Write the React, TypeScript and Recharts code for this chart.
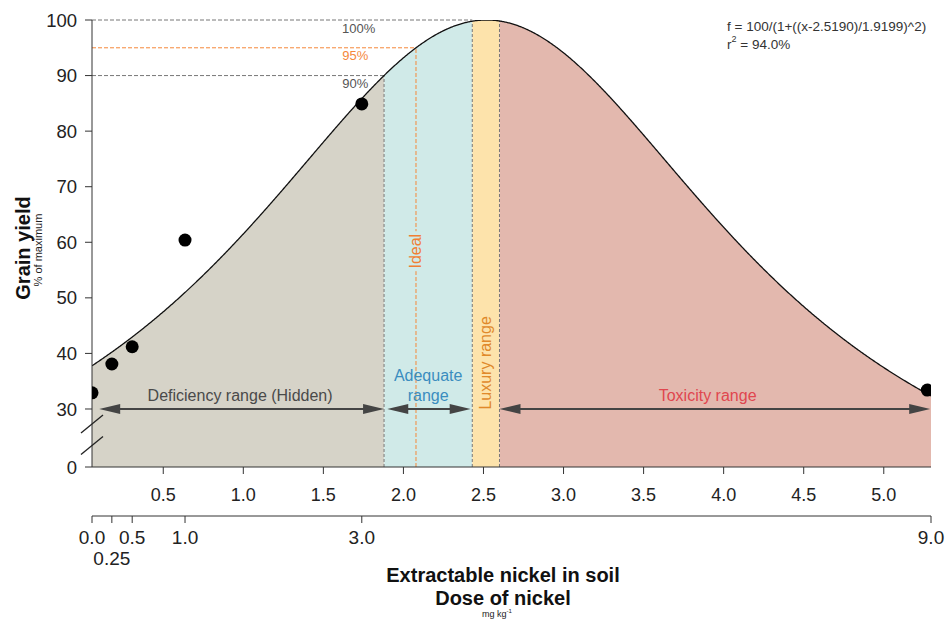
import React from 'react';
import {
  ComposedChart,
  Area,
  Line,
  Scatter,
  XAxis,
  YAxis,
  ReferenceLine,
  ReferenceDot,
} from 'recharts';

const FONT = '"Liberation Sans", Arial, Helvetica, sans-serif';
const W = 946;
const H = 619;

// Axis ids: extractable nickel sits directly under the plot, the dose scale below it
const SOIL = 'soil';
const TREAT = 'treatment';

// Fitted response curve: f = 100/(1+((x-b)/c)^2)
const FIT_B = 2.519;
const FIT_C = 1.9199;
const FIT_R2 = 94.0;
const fit = (x: number) => 100 / (1 + Math.pow((x - FIT_B) / FIT_C, 2));
const xAtPercent = (p: number) => FIT_B - FIT_C * Math.sqrt(100 / p - 1);

// Extractable nickel axis (mg/kg)
const X_MIN = 0.055;
const X_MAX = 5.295;
const extractableTicks = [0.5, 1.0, 1.5, 2.0, 2.5, 3.0, 3.5, 4.0, 4.5, 5.0];

// Yield axis, broken between 0 and 30
const Y_FLOOR = 19.56;
const yieldTicks = [Y_FLOOR, 30, 40, 50, 60, 70, 80, 90, 100];

// Nickel doses and where each one falls on the extractable-nickel scale
const doseLabels = ['0.0', '0.25', '0.5', '1.0', '3.0', '9.0'];
const doseExtractable = [X_MIN, 0.179, 0.306, 0.636, 1.74, X_MAX];

// Observed grain yield (% of maximum) for each dose
const observedExtractable = [0.055, 0.179, 0.306, 0.636, 1.74, 5.272];
const observedYield = [32.9, 38.1, 41.2, 60.4, 84.9, 33.4];

// Sufficiency thresholds
const ADEQUATE_FROM = xAtPercent(90);
const IDEAL = xAtPercent(95);
const LUXURY_FROM = 2.43;
const TOXIC_FROM = 2.6;

const rangeKeys = ['deficiency', 'adequate', 'luxury', 'toxicity'];
const rangeStarts = [X_MIN, ADEQUATE_FROM, LUXURY_FROM, TOXIC_FROM];
const rangeEnds = [ADEQUATE_FROM, LUXURY_FROM, TOXIC_FROM, X_MAX];

const rangeFill: Record<string, string> = {
  deficiency: '#d6d3c8',
  adequate: '#d0eae8',
  luxury: '#fde3ab',
  toxicity: '#e3b8ae',
};

// Sample the fitted curve across the axis, including every range limit
const sampleXs: number[] = (() => {
  const xs: number[] = [];
  const step = 0.005;
  for (let i = 0; X_MIN + i * step < X_MAX; i++) xs.push(X_MIN + i * step);
  xs.push(X_MAX, ...rangeStarts.slice(1));
  return Array.from(new Set(xs.map((v) => +v.toFixed(6)))).sort((a, b) => a - b);
})();

const curveData = sampleXs.map((x) => {
  const row: Record<string, number | null> = { x, fit: fit(x) };
  rangeKeys.forEach((k, i) => {
    row[k] = x >= rangeStarts[i] - 1e-9 && x <= rangeEnds[i] + 1e-9 ? fit(x) : null;
  });
  return row;
});

const observations = observedExtractable.map((x, i) => ({ x, y: observedYield[i] }));

const ARROW = '#444';

const DoubleArrow = (p: any) => {
  const { x1, y1, x2 } = p;
  const L = 21;
  const Hh = 5;
  return (
    <g>
      <line x1={x1 + L - 2} y1={y1} x2={x2 - L + 2} y2={y1} stroke={ARROW} strokeWidth={2} />
      <polygon points={`${x1},${y1} ${x1 + L},${y1 - Hh} ${x1 + L},${y1 + Hh}`} fill={ARROW} />
      <polygon points={`${x2},${y1} ${x2 - L},${y1 - Hh} ${x2 - L},${y1 + Hh}`} fill={ARROW} />
    </g>
  );
};

const textMark =
  (label: string, color: string, size: number, dy = 0, rotate = false, bg?: string) =>
  (p: any) => {
    const { cx, cy } = p;
    const y = cy + dy;
    return (
      <g>
        {bg ? <rect x={cx - 7} y={y - 20} width={14} height={40} fill={bg} /> : null}
        <text
          x={cx}
          y={y}
          fill={color}
          fontSize={size}
          fontFamily={FONT}
          textAnchor="middle"
          dominantBaseline="central"
          transform={rotate ? `rotate(-90, ${cx}, ${y})` : undefined}
        >
          {label}
        </text>
      </g>
    );
  };

const slash = (p: any) => {
  const { cx, cy } = p;
  return <line x1={cx - 11} y1={cy + 9} x2={cx + 11} y2={cy - 9} stroke="#222" strokeWidth={1.3} />;
};

const dotShape = (p: any) => <circle cx={p.cx} cy={p.cy} r={6.5} fill="#000" />;

const DoseTick = (p: any) => {
  const { x, y, payload } = p;
  const i = doseExtractable.indexOf(payload.value);
  const label = doseLabels[i];
  const lower = label === '0.25';
  return (
    <text
      x={x}
      y={y + (lower ? 21 : 0)}
      dy="0.71em"
      textAnchor="middle"
      fill="#222"
      fontSize={19}
      fontFamily={FONT}
    >
      {label}
    </text>
  );
};

export default function App() {
  return (
    <div style={{ position: 'absolute', left: 0, top: 0, width: W, height: H, background: '#fff' }}>
      <ComposedChart
        width={W}
        height={H}
        data={curveData}
        margin={{ top: 20, right: 15, left: 0, bottom: 43 }}
        style={{ fontFamily: FONT }}
      >
        <XAxis
          xAxisId={SOIL}
          dataKey="x"
          type="number"
          domain={[X_MIN, X_MAX]}
          allowDataOverflow
          ticks={extractableTicks}
          interval={0}
          tickFormatter={(v: number) => v.toFixed(1)}
          tick={{ fontSize: 18, fill: '#222', fontFamily: FONT }}
          tickSize={7}
          tickMargin={14}
          height={49}
          axisLine={{ stroke: '#333' }}
          tickLine={{ stroke: '#333' }}
        />
        <XAxis
          xAxisId={TREAT}
          dataKey="x"
          type="number"
          domain={[X_MIN, X_MAX]}
          allowDataOverflow
          ticks={doseExtractable}
          interval={0}
          tick={<DoseTick />}
          tickSize={7}
          tickMargin={8}
          height={60}
          axisLine={{ stroke: '#333' }}
          tickLine={{ stroke: '#333' }}
        />
        <YAxis
          type="number"
          domain={[Y_FLOOR, 100]}
          allowDataOverflow
          ticks={yieldTicks}
          interval={0}
          tickFormatter={(v: number) => (v < 30 ? '0' : String(v))}
          tick={{ fontSize: 18.5, fill: '#222', fontFamily: FONT }}
          tickSize={7}
          tickMargin={8}
          width={92}
          axisLine={{ stroke: '#333' }}
          tickLine={{ stroke: '#333' }}
        />

        {rangeKeys.map((k) => (
          <Area
            key={k}
            xAxisId={SOIL}
            type="linear"
            dataKey={k}
            stroke="none"
            fill={rangeFill[k]}
            fillOpacity={1}
            connectNulls={false}
            dot={false}
            activeDot={false}
            isAnimationActive={false}
          />
        ))}

        {/* threshold levels */}
        <ReferenceLine
          xAxisId={SOIL}
          segment={[{ x: X_MIN, y: 100 }, { x: LUXURY_FROM, y: 100 }]}
          stroke="#777"
          strokeDasharray="4 2"
          ifOverflow="visible"
        />
        <ReferenceLine
          xAxisId={SOIL}
          segment={[{ x: X_MIN, y: 95 }, { x: IDEAL, y: 95 }]}
          stroke="#f5883a"
          strokeDasharray="4 2"
          ifOverflow="visible"
        />
        <ReferenceLine
          xAxisId={SOIL}
          segment={[{ x: X_MIN, y: 90 }, { x: ADEQUATE_FROM, y: 90 }]}
          stroke="#777"
          strokeDasharray="4 2"
          ifOverflow="visible"
        />

        {/* range limits */}
        {[ADEQUATE_FROM, LUXURY_FROM, TOXIC_FROM].map((b) => (
          <ReferenceLine
            key={b}
            xAxisId={SOIL}
            segment={[{ x: b, y: Y_FLOOR }, { x: b, y: fit(b) }]}
            stroke="#777"
            strokeDasharray="3 2"
            ifOverflow="visible"
          />
        ))}
        <ReferenceLine
          xAxisId={SOIL}
          segment={[{ x: IDEAL, y: Y_FLOOR }, { x: IDEAL, y: 95 }]}
          stroke="#f5883a"
          strokeDasharray="4 2"
          ifOverflow="visible"
        />

        <Line
          xAxisId={SOIL}
          type="linear"
          dataKey="fit"
          stroke="#111"
          strokeWidth={1.3}
          dot={false}
          activeDot={false}
          isAnimationActive={false}
        />

        {/* range arrows */}
        <ReferenceLine xAxisId={SOIL} segment={[{ x: 0.1, y: 30 }, { x: ADEQUATE_FROM, y: 30 }]} shape={DoubleArrow} ifOverflow="visible" />
        <ReferenceLine xAxisId={SOIL} segment={[{ x: ADEQUATE_FROM + 0.02, y: 30 }, { x: LUXURY_FROM - 0.01, y: 30 }]} shape={DoubleArrow} ifOverflow="visible" />
        <ReferenceLine xAxisId={SOIL} segment={[{ x: TOXIC_FROM, y: 30 }, { x: X_MAX - 0.005, y: 30 }]} shape={DoubleArrow} ifOverflow="visible" />

        <Scatter xAxisId={SOIL} data={observations} dataKey="y" shape={dotShape} isAnimationActive={false} />

        {/* labels */}
        <ReferenceDot xAxisId={SOIL} x={1.72} y={100} r={0} shape={textMark('100%', '#555', 13, 8.5)} ifOverflow="visible" />
        <ReferenceDot xAxisId={SOIL} x={1.7} y={95} r={0} shape={textMark('95%', '#f5883a', 13, 8)} ifOverflow="visible" />
        <ReferenceDot xAxisId={SOIL} x={1.7} y={90} r={0} shape={textMark('90%', '#555', 13, 8)} ifOverflow="visible" />
        <ReferenceDot xAxisId={SOIL} x={0.98} y={30} r={0} shape={textMark('Deficiency range (Hidden)', '#4a4a4a', 16, -13.5)} ifOverflow="visible" />
        <ReferenceDot xAxisId={SOIL} x={(ADEQUATE_FROM + LUXURY_FROM) / 2} y={30} r={0} shape={textMark('Adequate', '#3a8dbf', 16, -33)} ifOverflow="visible" />
        <ReferenceDot xAxisId={SOIL} x={(ADEQUATE_FROM + LUXURY_FROM) / 2} y={30} r={0} shape={textMark('range', '#3a8dbf', 16, -13.5)} ifOverflow="visible" />
        <ReferenceDot xAxisId={SOIL} x={3.9} y={30} r={0} shape={textMark('Toxicity range', '#e0464e', 16, -13.5)} ifOverflow="visible" />
        <ReferenceDot xAxisId={SOIL} x={(LUXURY_FROM + TOXIC_FROM) / 2} y={38.3} r={0} shape={textMark('Luxury range', '#e0892a', 16, 0, true)} ifOverflow="visible" />
        <ReferenceDot xAxisId={SOIL} x={IDEAL} y={58.4} r={0} shape={textMark('Ideal', '#f07f33', 16, 0, true, rangeFill.adequate)} ifOverflow="visible" />

        {/* axis break */}
        <ReferenceDot xAxisId={SOIL} x={X_MIN} y={27.32} r={0} shape={slash} ifOverflow="visible" />
        <ReferenceDot xAxisId={SOIL} x={X_MIN} y={23.43} r={0} shape={slash} ifOverflow="visible" />
      </ComposedChart>

      <svg
        width={W}
        height={H}
        style={{ position: 'absolute', left: 0, top: 0, pointerEvents: 'none' }}
        fontFamily={FONT}
      >
        <text x={727} y={26} fontSize={13.5} fill="#333" dominantBaseline="central">
          {`f = 100/(1+((x-${FIT_B.toFixed(4)})/${FIT_C.toFixed(4)})^2)`}
        </text>
        <text x={727} y={44} fontSize={13.5} fill="#333" dominantBaseline="central">
          r<tspan fontSize={9} dy={-5}>2</tspan>
          <tspan dy={5}>{` = ${FIT_R2.toFixed(1)}%`}</tspan>
        </text>

        <text
          x={23}
          y={248}
          fontSize={20}
          fontWeight="bold"
          fill="#111"
          textAnchor="middle"
          dominantBaseline="central"
          transform="rotate(-90, 23, 248)"
        >
          Grain yield
        </text>
        <text
          x={38}
          y={250}
          fontSize={11}
          fill="#222"
          textAnchor="middle"
          dominantBaseline="central"
          transform="rotate(-90, 38, 250)"
        >
          % of maximum
        </text>

        <text x={503} y={575} fontSize={20} fontWeight="bold" fill="#111" textAnchor="middle" dominantBaseline="central">
          Extractable nickel in soil
        </text>
        <text x={503} y={598} fontSize={20} fontWeight="bold" fill="#111" textAnchor="middle" dominantBaseline="central">
          Dose of nickel
        </text>
        <text x={497} y={614} fontSize={9} fill="#222" textAnchor="middle" dominantBaseline="central">
          mg kg<tspan fontSize={6} dy={-3}>-1</tspan>
        </text>
      </svg>
    </div>
  );
}
